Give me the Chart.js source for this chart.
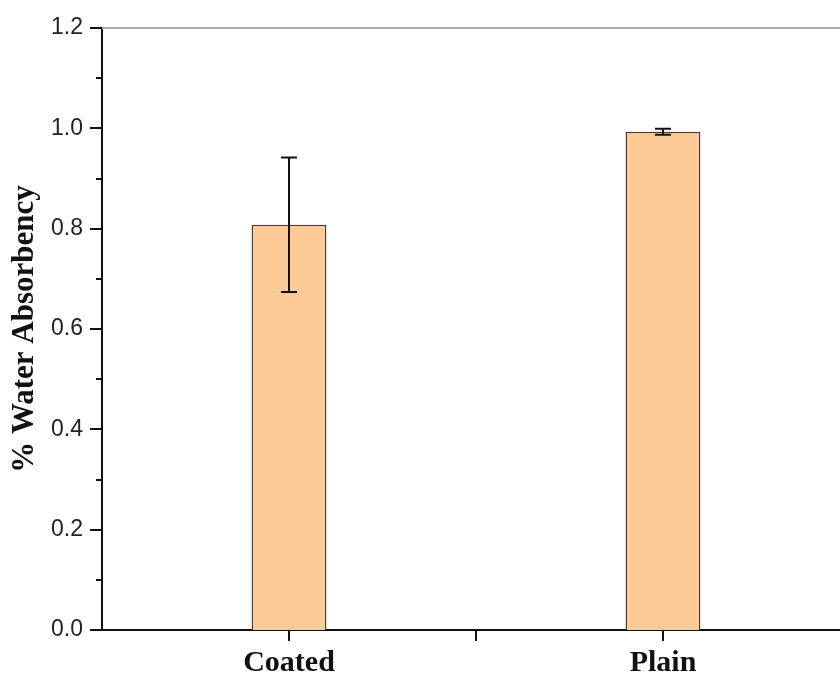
<!DOCTYPE html>
<html lang="en">
<head>
  <meta charset="UTF-8">
  <title>% Water Absorbency</title>
  <script src="https://cdn.jsdelivr.net/npm/chart.js"></script>
  <style>
    body {
      margin: 0;
      background: #ffffff;
      overflow: hidden;
    }
    .chart-container {
      width: 860px;
      height: 677px;
    }
  </style>
</head>
<body>

  <div class="chart-container">
    <canvas id="absChart"></canvas>
  </div>

  <script>
    const categories = ['Coated', 'Plain'];
    const absorbency = [0.808, 0.993];
    const errors = [0.134, 0.006];

    // tick marks, error bars and the grey top frame line
    const decorations = {
      id: 'decorations',
      afterDatasetsDraw(chart) {
        const { ctx, chartArea, scales } = chart;
        const x = scales.x, y = scales.y;
        ctx.save();
        ctx.strokeStyle = '#111';
        ctx.lineWidth = 2;

        // error bars
        chart.getDatasetMeta(0).data.forEach((bar, i) => {
          const top = y.getPixelForValue(absorbency[i] + errors[i]);
          const bot = y.getPixelForValue(absorbency[i] - errors[i]);
          ctx.beginPath();
          ctx.moveTo(bar.x, top); ctx.lineTo(bar.x, bot);
          ctx.moveTo(bar.x - 8, top); ctx.lineTo(bar.x + 8, top);
          ctx.moveTo(bar.x - 8, bot); ctx.lineTo(bar.x + 8, bot);
          ctx.stroke();
        });

        // y ticks, major every 0.2, minor every 0.1
        ctx.beginPath();
        for (let i = 0; i <= 12; i++) {
          const py = Math.round(y.getPixelForValue(i / 10));
          const len = i % 2 === 0 ? 12 : 6;
          ctx.moveTo(chartArea.left - len, py);
          ctx.lineTo(chartArea.left, py);
        }
        // x ticks at categories and between them
        const xs = [x.getPixelForTick(0), (x.getPixelForTick(0) + x.getPixelForTick(1)) / 2, x.getPixelForTick(1)];
        xs.forEach(px => {
          ctx.moveTo(Math.round(px), chartArea.bottom);
          ctx.lineTo(Math.round(px), chartArea.bottom + 11);
        });
        ctx.stroke();

        // top frame
        ctx.strokeStyle = '#aaaaaa';
        ctx.beginPath();
        ctx.moveTo(chartArea.left, chartArea.top);
        ctx.lineTo(chartArea.right + 20, chartArea.top);
        ctx.stroke();
        ctx.restore();
      }
    };

    const ctx = document.getElementById('absChart').getContext('2d');
    new Chart(ctx, {
      type: 'bar',
      data: {
        labels: categories,
        datasets: [{
          data: absorbency,
          backgroundColor: '#fecb98',
          borderColor: '#3c3c3c',
          borderWidth: 1.5,
          barPercentage: 0.2,
          categoryPercentage: 1.0
        }]
      },
      options: {
        responsive: true,
        maintainAspectRatio: false,
        animation: false,
        layout: { padding: { top: 28, right: 10, left: 0, bottom: 0 } },
        plugins: {
          legend: { display: false },
          tooltip: { enabled: false }
        },
        scales: {
          x: {
            afterFit: s => { s.height = 47; },
            grid: { display: false, drawTicks: false },
            border: { display: true, color: '#111', width: 2 },
            ticks: {
              color: '#111',
              padding: 15,
              font: { family: 'Liberation Serif', size: 30, weight: 'bold' }
            }
          },
          y: {
            min: 0,
            max: 1.2,
            afterFit: s => { s.width = 102; s.paddingTop = 0; s.paddingBottom = 0; },
            grid: { display: false, drawTicks: false },
            border: { display: true, color: '#111', width: 2 },
            ticks: {
              stepSize: 0.2,
              color: '#222',
              padding: 19,
              font: { family: 'Liberation Sans', size: 23 },
              callback: v => v.toFixed(1)
            },
            title: {
              display: true,
              text: '% Water Absorbency',
              color: '#111',
              padding: { top: 6, bottom: 0 },
              font: { family: 'Liberation Serif', size: 31, weight: 'bold' }
            }
          }
        }
      },
      plugins: [decorations]
    });
  </script>

</body>
</html>
